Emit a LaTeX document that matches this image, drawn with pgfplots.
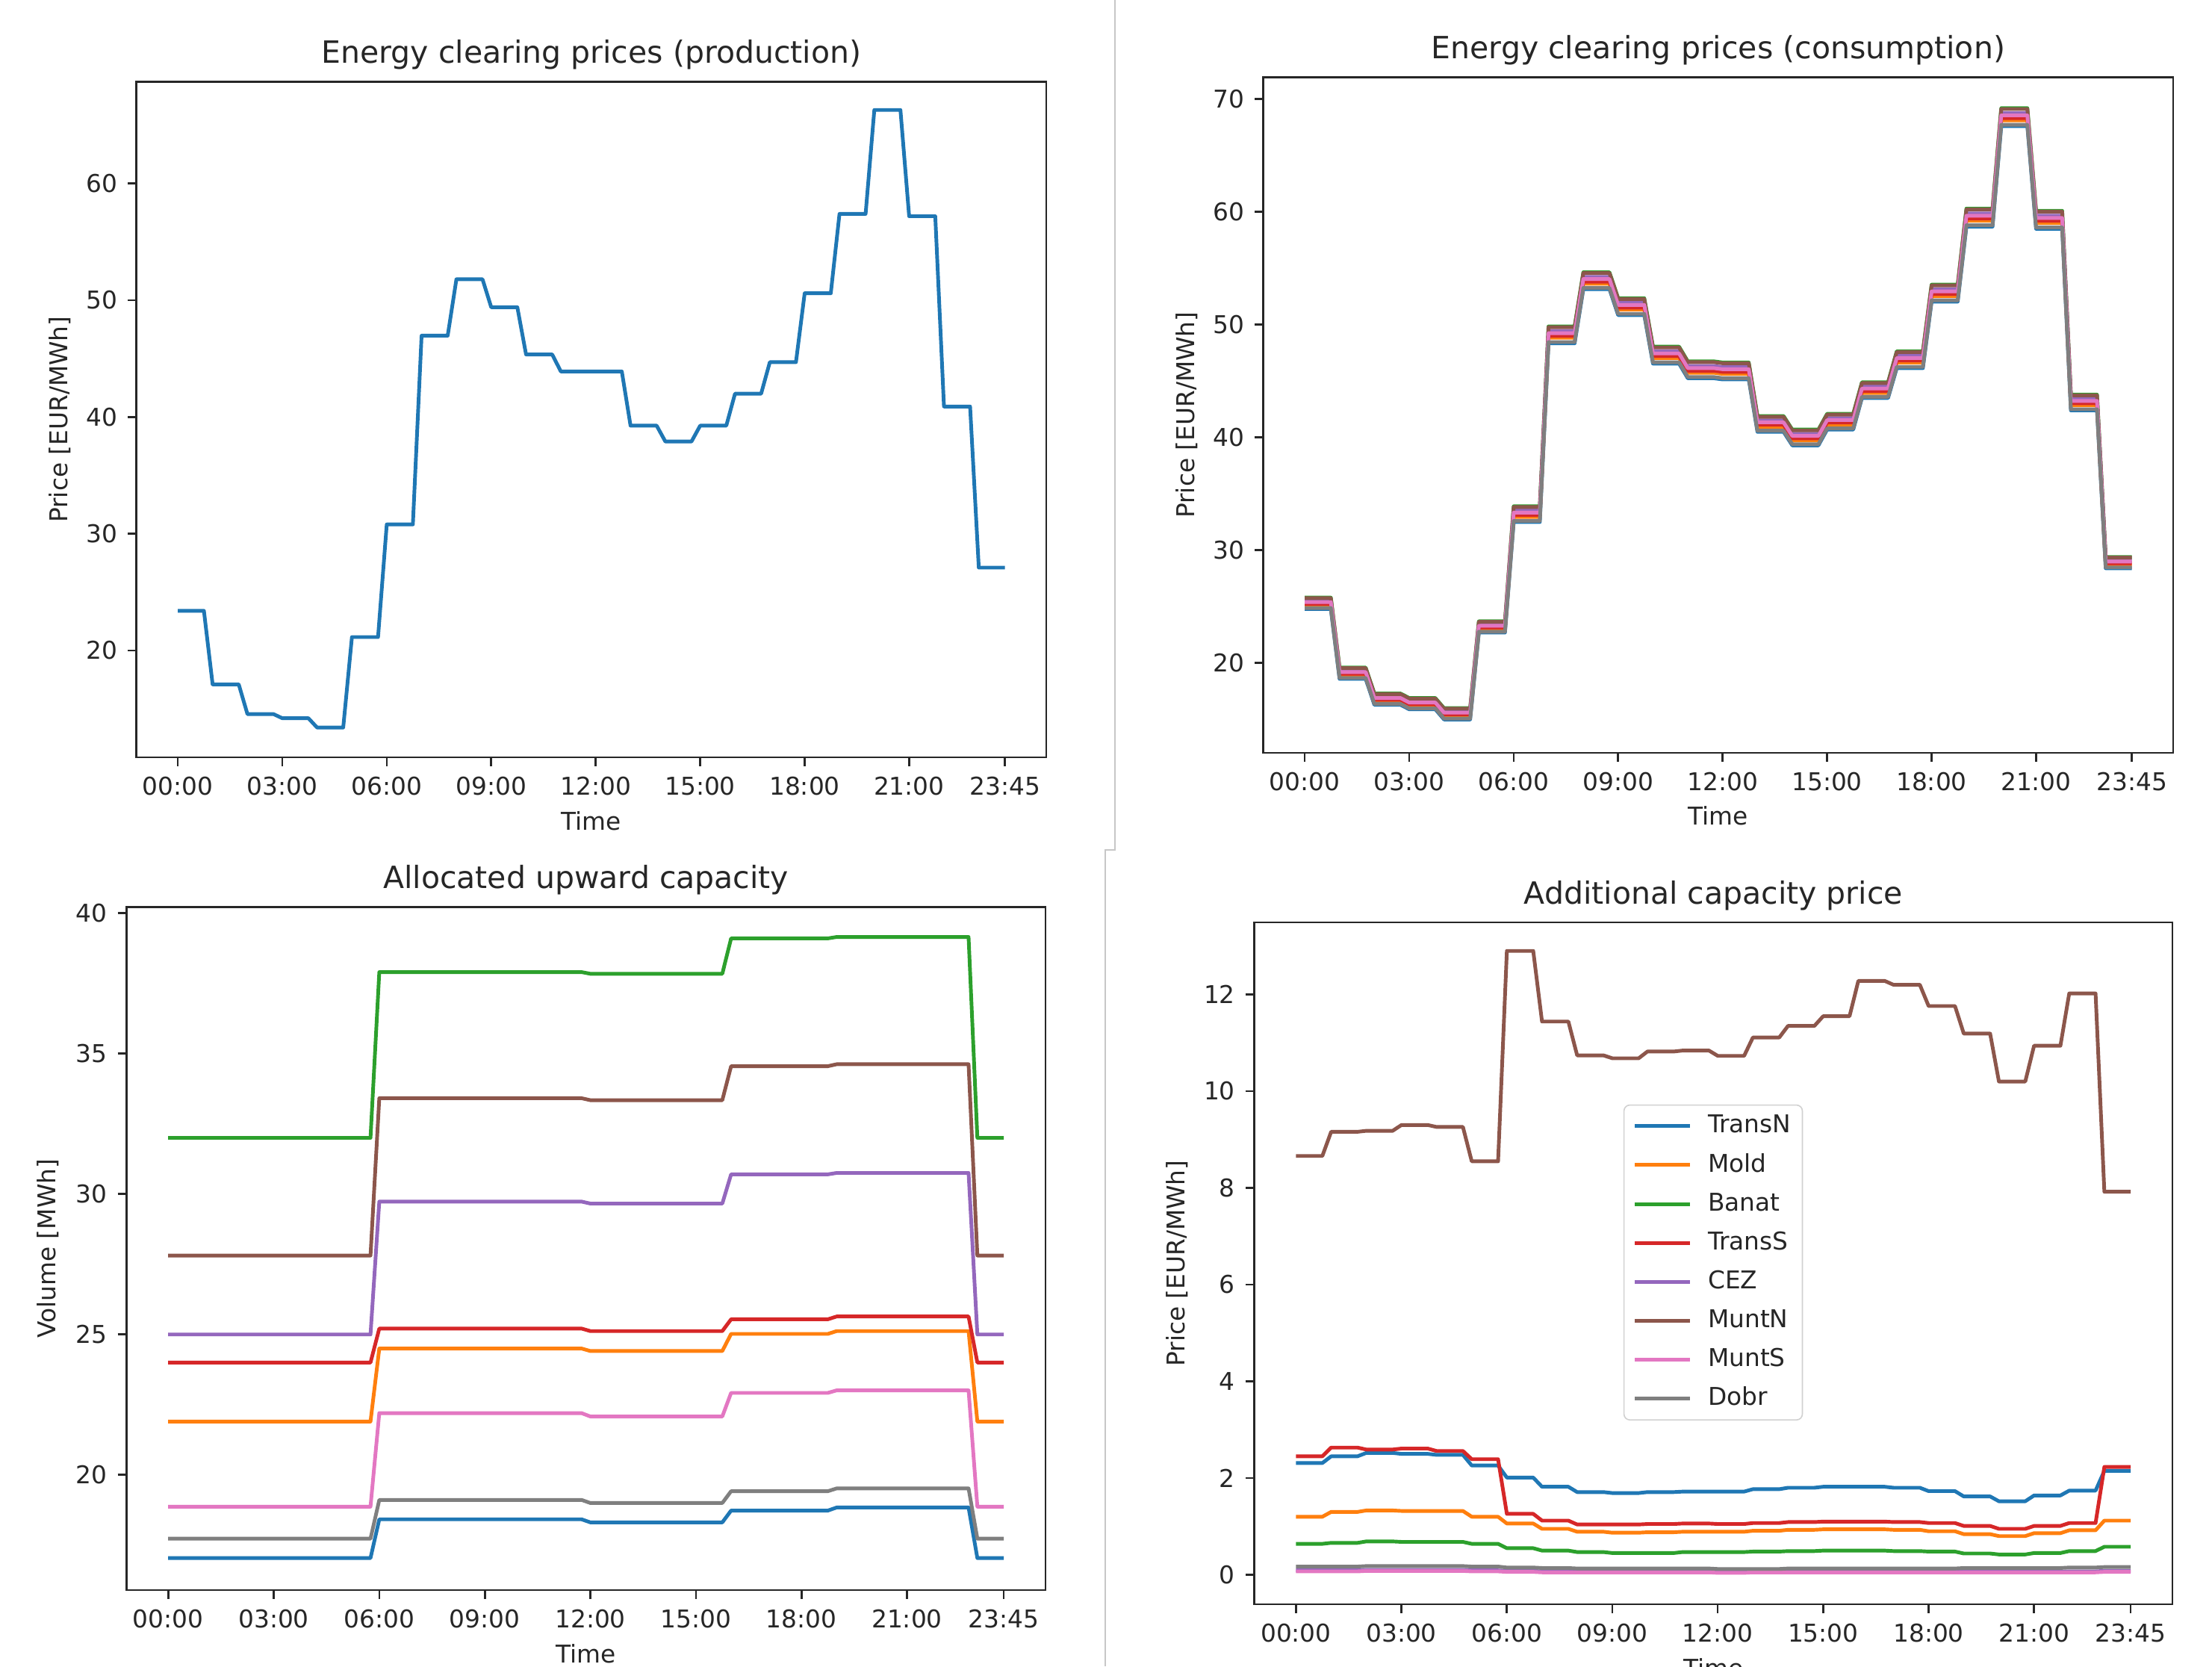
\documentclass[border=0pt]{standalone}
\usepackage{fontspec}
\setmainfont{DejaVu Sans}
\usepackage{pgfplots}
\usepackage{pgfplotstable}
\pgfplotsset{compat=1.18}

\definecolor{c0}{HTML}{1F77B4}
\definecolor{c1}{HTML}{FF7F0E}
\definecolor{c2}{HTML}{2CA02C}
\definecolor{c3}{HTML}{D62728}
\definecolor{c4}{HTML}{9467BD}
\definecolor{c5}{HTML}{8C564B}
\definecolor{c6}{HTML}{E377C2}
\definecolor{c7}{HTML}{7F7F7F}
\definecolor{fr}{HTML}{262626}

\newcommand{\tickfont}{\fontsize{8.2}{9.8}\selectfont}
\newcommand{\titlefont}{\fontsize{10.25}{12.3}\selectfont}

\pgfplotsset{
  mpl/.style={
    scale only axis,
    anchor=north west,
    xmin=-1.1875, xmax=24.9375,
    xtick={0,3,6,9,12,15,18,21,23.75},
    xticklabels={00:00,03:00,06:00,09:00,12:00,15:00,18:00,21:00,23:45},
    xtick pos=left, ytick pos=left,
    tick align=outside,
    major tick length=2.9pt,
    tick style={fr, line width=0.66pt},
    axis line style={fr, line width=0.66pt},
    every tick label/.append style={font=\tickfont, text=fr},
    /pgf/number format/assume math mode=true,
    scaled y ticks=false,
    every axis title/.style={font=\titlefont, text=fr, at={(axis description cs:0.5,1)}, anchor=base, yshift=6.1pt},
    xlabel=Time,
    every axis x label/.style={font=\tickfont, text=fr, at={(axis description cs:0.5,0)}, anchor=base, yshift=-24.25pt},
    every axis plot/.append style={line width=1.23pt, line join=round, mark=none},
  },
}

% Energy clearing prices (production)
\pgfplotstableread{
t v
0 23.4
0.75 23.4
1 17.1
1.75 17.1
2 14.55
2.75 14.55
3 14.2
3.75 14.2
4 13.4
4.75 13.4
5 21.15
5.75 21.15
6 30.8
6.75 30.8
7 46.97
7.75 46.97
8 51.8
8.75 51.8
9 49.4
9.75 49.4
10 45.36
10.75 45.36
11 43.9
11.75 43.9
12 43.9
12.75 43.9
13 39.26
13.75 39.26
14 37.9
14.75 37.9
15 39.26
15.75 39.26
16 42.0
16.75 42.0
17 44.7
17.75 44.7
18 50.6
18.75 50.6
19 57.4
19.75 57.4
20 66.3
20.75 66.3
21 57.2
21.75 57.2
22 40.9
22.75 40.9
23 27.1
23.75 27.1
}\prodtab

% Energy clearing prices (consumption)
\pgfplotstableread{
t TransN Mold Banat TransS CEZ MuntN MuntS Dobr
0 24.80 25.12 25.80 25.25 25.52 25.75 25.40 24.88
0.75 24.80 25.12 25.80 25.25 25.52 25.75 25.40 24.88
1 18.60 18.92 19.60 19.05 19.32 19.55 19.20 18.68
1.75 18.60 18.92 19.60 19.05 19.32 19.55 19.20 18.68
2 16.30 16.62 17.30 16.75 17.02 17.25 16.90 16.38
2.75 16.30 16.62 17.30 16.75 17.02 17.25 16.90 16.38
3 15.90 16.22 16.90 16.35 16.62 16.85 16.50 15.98
3.75 15.90 16.22 16.90 16.35 16.62 16.85 16.50 15.98
4 15.00 15.32 16.00 15.45 15.72 15.95 15.60 15.08
4.75 15.00 15.32 16.00 15.45 15.72 15.95 15.60 15.08
5 22.70 23.02 23.70 23.15 23.42 23.65 23.30 22.78
5.75 22.70 23.02 23.70 23.15 23.42 23.65 23.30 22.78
6 32.50 32.95 33.90 33.13 33.52 33.83 33.34 32.60
6.75 32.50 32.95 33.90 33.13 33.52 33.83 33.34 32.60
7 48.35 48.84 49.85 49.02 49.44 49.78 49.25 48.46
7.75 48.35 48.84 49.85 49.02 49.44 49.78 49.25 48.46
8 53.15 53.64 54.65 53.82 54.24 54.58 54.05 53.26
8.75 53.15 53.64 54.65 53.82 54.24 54.58 54.05 53.26
9 50.85 51.34 52.35 51.52 51.94 52.28 51.75 50.96
9.75 50.85 51.34 52.35 51.52 51.94 52.28 51.75 50.96
10 46.55 47.04 48.05 47.22 47.64 47.98 47.45 46.66
10.75 46.55 47.04 48.05 47.22 47.64 47.98 47.45 46.66
11 45.25 45.74 46.75 45.92 46.34 46.68 46.15 45.36
11.75 45.25 45.74 46.75 45.92 46.34 46.68 46.15 45.36
12 45.15 45.64 46.65 45.82 46.24 46.58 46.05 45.26
12.75 45.15 45.64 46.65 45.82 46.24 46.58 46.05 45.26
13 40.50 40.95 41.90 41.13 41.52 41.83 41.34 40.60
13.75 40.50 40.95 41.90 41.13 41.52 41.83 41.34 40.60
14 39.30 39.75 40.70 39.93 40.32 40.63 40.14 39.40
14.75 39.30 39.75 40.70 39.93 40.32 40.63 40.14 39.40
15 40.70 41.15 42.10 41.33 41.72 42.03 41.54 40.80
15.75 40.70 41.15 42.10 41.33 41.72 42.03 41.54 40.80
16 43.50 43.95 44.90 44.13 44.52 44.83 44.34 43.60
16.75 43.50 43.95 44.90 44.13 44.52 44.83 44.34 43.60
17 46.15 46.64 47.65 46.82 47.24 47.58 47.05 46.26
17.75 46.15 46.64 47.65 46.82 47.24 47.58 47.05 46.26
18 52.05 52.54 53.55 52.72 53.14 53.48 52.95 52.16
18.75 52.05 52.54 53.55 52.72 53.14 53.48 52.95 52.16
19 58.70 59.22 60.30 59.42 59.86 60.22 59.66 58.82
19.75 58.70 59.22 60.30 59.42 59.86 60.22 59.66 58.82
20 67.60 68.12 69.20 68.32 68.76 69.12 68.56 67.72
20.75 67.60 68.12 69.20 68.32 68.76 69.12 68.56 67.72
21 58.50 59.02 60.10 59.22 59.66 60.02 59.46 58.62
21.75 58.50 59.02 60.10 59.22 59.66 60.02 59.46 58.62
22 42.40 42.85 43.80 43.03 43.42 43.73 43.24 42.50
22.75 42.40 42.85 43.80 43.03 43.42 43.73 43.24 42.50
23 28.40 28.72 29.40 28.85 29.12 29.35 29.00 28.48
23.75 28.40 28.72 29.40 28.85 29.12 29.35 29.00 28.48
}\constab

% Allocated upward capacity
\pgfplotstableread{
t TransN Mold Banat TransS CEZ MuntN MuntS Dobr
0 17.04 21.90 32.00 24.00 25.00 27.81 18.87 17.73
5.75 17.04 21.90 32.00 24.00 25.00 27.81 18.87 17.73
6 18.42 24.50 37.90 25.21 29.73 33.41 22.20 19.11
11.75 18.42 24.50 37.90 25.21 29.73 33.41 22.20 19.11
12 18.31 24.41 37.84 25.12 29.66 33.34 22.08 19.00
15.75 18.31 24.41 37.84 25.12 29.66 33.34 22.08 19.00
16 18.73 25.02 39.10 25.54 30.70 34.55 22.92 19.42
18.75 18.73 25.02 39.10 25.54 30.70 34.55 22.92 19.42
19 18.84 25.12 39.15 25.64 30.75 34.62 23.01 19.52
22.75 18.84 25.12 39.15 25.64 30.75 34.62 23.01 19.52
23 17.04 21.90 32.00 24.00 25.00 27.81 18.87 17.73
23.75 17.04 21.90 32.00 24.00 25.00 27.81 18.87 17.73
}\alloctab

% Additional capacity price
\pgfplotstableread{
t TransN Mold Banat TransS CEZ MuntN MuntS Dobr
0 2.31 1.20 0.64 2.45 0.09 8.66 0.07 0.17
0.75 2.31 1.20 0.64 2.45 0.09 8.66 0.07 0.17
1 2.45 1.30 0.66 2.63 0.09 9.16 0.07 0.17
1.75 2.45 1.30 0.66 2.63 0.09 9.16 0.07 0.17
2 2.52 1.33 0.69 2.59 0.10 9.18 0.08 0.18
2.75 2.52 1.33 0.69 2.59 0.10 9.18 0.08 0.18
3 2.50 1.32 0.68 2.61 0.10 9.30 0.08 0.18
3.75 2.50 1.32 0.68 2.61 0.10 9.30 0.08 0.18
4 2.48 1.32 0.68 2.56 0.10 9.26 0.08 0.18
4.75 2.48 1.32 0.68 2.56 0.10 9.26 0.08 0.18
5 2.26 1.20 0.64 2.39 0.09 8.55 0.07 0.17
5.75 2.26 1.20 0.64 2.39 0.09 8.55 0.07 0.17
6 2.01 1.06 0.55 1.26 0.08 12.90 0.06 0.15
6.75 2.01 1.06 0.55 1.26 0.08 12.90 0.06 0.15
7 1.82 0.95 0.50 1.12 0.07 11.44 0.05 0.14
7.75 1.82 0.95 0.50 1.12 0.07 11.44 0.05 0.14
8 1.71 0.89 0.47 1.04 0.06 10.74 0.05 0.13
8.75 1.71 0.89 0.47 1.04 0.06 10.74 0.05 0.13
9 1.69 0.87 0.45 1.04 0.06 10.68 0.05 0.13
9.75 1.69 0.87 0.45 1.04 0.06 10.68 0.05 0.13
10 1.71 0.88 0.45 1.05 0.06 10.82 0.05 0.13
10.75 1.71 0.88 0.45 1.05 0.06 10.82 0.05 0.13
11 1.72 0.89 0.47 1.06 0.06 10.84 0.05 0.13
11.75 1.72 0.89 0.47 1.06 0.06 10.84 0.05 0.13
12 1.72 0.89 0.47 1.05 0.06 10.73 0.04 0.12
12.75 1.72 0.89 0.47 1.05 0.06 10.73 0.04 0.12
13 1.77 0.91 0.48 1.07 0.06 11.11 0.05 0.12
13.75 1.77 0.91 0.48 1.07 0.06 11.11 0.05 0.12
14 1.80 0.93 0.49 1.09 0.06 11.35 0.05 0.13
14.75 1.80 0.93 0.49 1.09 0.06 11.35 0.05 0.13
15 1.82 0.94 0.50 1.10 0.06 11.55 0.05 0.13
15.75 1.82 0.94 0.50 1.10 0.06 11.55 0.05 0.13
16 1.82 0.94 0.50 1.10 0.06 12.28 0.05 0.13
16.75 1.82 0.94 0.50 1.10 0.06 12.28 0.05 0.13
17 1.80 0.93 0.49 1.09 0.06 12.20 0.05 0.13
17.75 1.80 0.93 0.49 1.09 0.06 12.20 0.05 0.13
18 1.73 0.90 0.48 1.07 0.06 11.76 0.05 0.13
18.75 1.73 0.90 0.48 1.07 0.06 11.76 0.05 0.13
19 1.62 0.84 0.44 1.01 0.06 11.19 0.05 0.14
19.75 1.62 0.84 0.44 1.01 0.06 11.19 0.05 0.14
20 1.52 0.80 0.42 0.95 0.06 10.20 0.05 0.14
20.75 1.52 0.80 0.42 0.95 0.06 10.20 0.05 0.14
21 1.64 0.86 0.45 1.01 0.06 10.94 0.05 0.14
21.75 1.64 0.86 0.45 1.01 0.06 10.94 0.05 0.14
22 1.74 0.92 0.49 1.07 0.07 12.02 0.05 0.15
22.75 1.74 0.92 0.49 1.07 0.07 12.02 0.05 0.15
23 2.15 1.12 0.58 2.23 0.08 7.92 0.06 0.16
23.75 2.15 1.12 0.58 2.23 0.08 7.92 0.06 0.16
}\addtab

\begin{document}
\begin{tikzpicture}
\useasboundingbox (0,0) rectangle (740.5pt,557.75pt);
\clip (0,0) rectangle (740.5pt,557.75pt);
\fill[white] (0,0) rectangle (740.5pt,557.75pt);

% ---------- Panel 1 ----------
\begin{axis}[mpl,
  at={(45.675pt,530.425pt)}, width=304.575pt, height=226.175pt,
  ymin=10.85, ymax=68.73, ytick={20,30,40,50,60},
  title={Energy clearing prices (production)},
  ylabel={Price [EUR/MWh]},
  ylabel style={font=\tickfont, text=fr, at={(axis description cs:-0.0753,0.5)}, anchor=base},
]
\addplot[c0] table[x=t,y=v] {\prodtab};
\end{axis}

% ---------- Panel 2 ----------
\begin{axis}[mpl,
  at={(422.925pt,531.925pt)}, width=304.575pt, height=226.175pt,
  ymin=12.04, ymax=71.95, ytick={20,30,40,50,60,70},
  title={Energy clearing prices (consumption)},
  ylabel={Price [EUR/MWh]},
  ylabel style={font=\tickfont, text=fr, at={(axis description cs:-0.0761,0.5)}, anchor=base},
]
\addplot[c0] table[x=t,y=TransN] {\constab};
\addplot[c1] table[x=t,y=Mold] {\constab};
\addplot[c2] table[x=t,y=Banat] {\constab};
\addplot[c3] table[x=t,y=TransS] {\constab};
\addplot[c4] table[x=t,y=CEZ] {\constab};
\addplot[c5] table[x=t,y=MuntN] {\constab};
\addplot[c6] table[x=t,y=MuntS] {\constab};
\addplot[c7] table[x=t,y=Dobr] {\constab};
\end{axis}

% ---------- Panel 3 ----------
\begin{axis}[mpl,
  at={(42.325pt,254.175pt)}, width=307.675pt, height=228.675pt,
  ymin=15.90, ymax=40.22, ytick={20,25,30,35,40},
  title={Allocated upward capacity},
  ylabel={Volume [MWh]},
  ylabel style={font=\tickfont, text=fr, at={(axis description cs:-0.0774,0.5)}, anchor=base},
]
\addplot[c0] table[x=t,y=TransN] {\alloctab};
\addplot[c1] table[x=t,y=Mold] {\alloctab};
\addplot[c2] table[x=t,y=Banat] {\alloctab};
\addplot[c3] table[x=t,y=TransS] {\alloctab};
\addplot[c4] table[x=t,y=CEZ] {\alloctab};
\addplot[c5] table[x=t,y=MuntN] {\alloctab};
\addplot[c6] table[x=t,y=MuntS] {\alloctab};
\addplot[c7] table[x=t,y=Dobr] {\alloctab};
\end{axis}

% ---------- Panel 4 ----------
\begin{axis}[mpl,
  at={(419.875pt,249pt)}, width=307.375pt, height=228.25pt,
  ymin=-0.61, ymax=13.49, ytick={0,2,4,6,8,10,12},
  title={Additional capacity price},
  ylabel={Price [EUR/MWh]},
  ylabel style={font=\tickfont, text=fr, at={(axis description cs:-0.0760,0.5)}, anchor=base},
  legend cell align=left,
  legend style={at={(axis description cs:0.402,0.733)}, anchor=north west,
    draw=black!18, rounded corners=2pt, fill=white, fill opacity=0.8, text opacity=1,
    font=\tickfont, text=fr, inner xsep=3pt, inner ysep=2.5pt, row sep=3.85pt,
    nodes={inner sep=0.8pt}},
  legend image code/.code={\draw[#1, line width=1.23pt] (0pt,0pt) -- (18.5pt,0pt); \path (23.1pt,0pt);},
]
\addplot[c0] table[x=t,y=TransN] {\addtab};
\addplot[c1] table[x=t,y=Mold] {\addtab};
\addplot[c2] table[x=t,y=Banat] {\addtab};
\addplot[c3] table[x=t,y=TransS] {\addtab};
\addplot[c4] table[x=t,y=CEZ] {\addtab};
\addplot[c5] table[x=t,y=MuntN] {\addtab};
\addplot[c6] table[x=t,y=MuntS] {\addtab};
\addplot[c7] table[x=t,y=Dobr] {\addtab};
\legend{TransN,Mold,Banat,TransS,CEZ,MuntN,MuntS,Dobr}
\end{axis}

% panel dividers
\draw[black!22, line width=0.5pt] (373.25pt,557.75pt) -- (373.25pt,273.25pt) -- (370pt,273.25pt) -- (370pt,0pt);
\end{tikzpicture}
\end{document}
